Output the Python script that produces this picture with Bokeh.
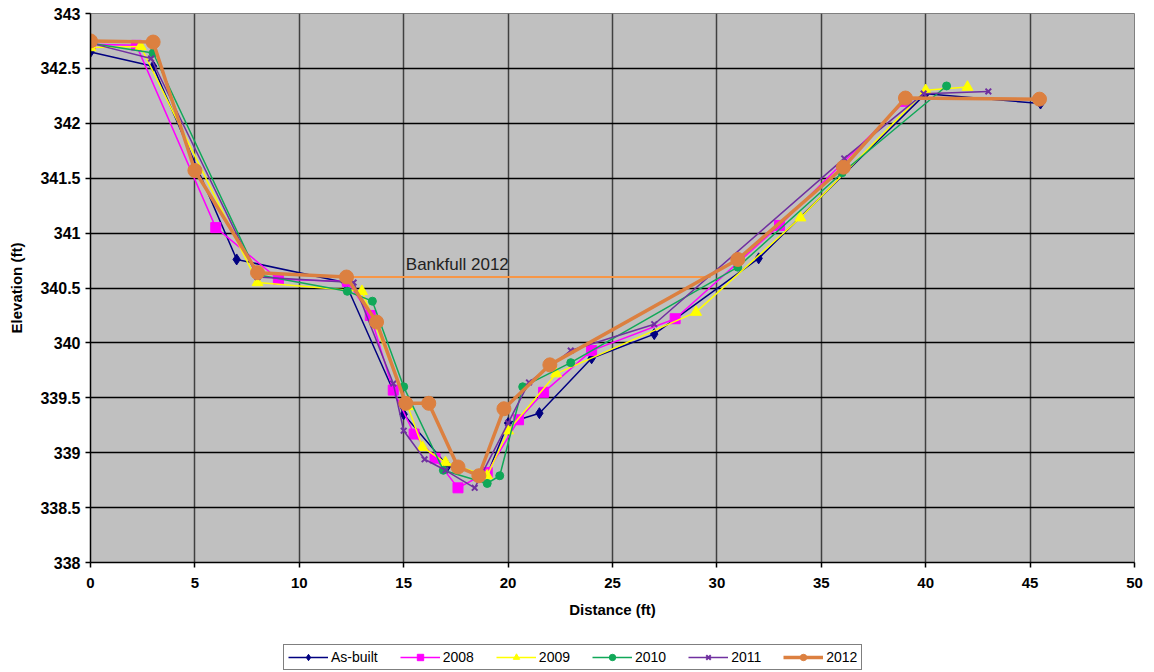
from bokeh.plotting import figure
from bokeh.layouts import column
from bokeh.models import Legend, LegendItem, FixedTicker, Range1d, Label
from bokeh.embed import file_html
from bokeh.resources import INLINE

# ---- data ----
asbuilt_x = [0, 3.0, 7.0, 12.2, 15.0, 17.1, 19.0, 20.0, 21.5, 24.0, 27.0, 32.0, 40.0, 45.5]
asbuilt_y = [342.65, 342.52, 340.76, 340.55, 339.35, 338.88, 338.8, 339.27, 339.36, 339.86, 340.08, 340.77, 342.27, 342.18]

y2008_x = [0, 2.2, 6.0, 9.0, 12.3, 13.4, 14.5, 15.5, 16.5, 17.6, 19.0, 20.5, 21.7, 24.0, 28.0, 33.0, 39.0]
y2008_y = [342.72, 342.71, 341.05, 340.58, 340.56, 340.25, 339.57, 339.17, 338.95, 338.68, 338.82, 339.3, 339.55, 339.93, 340.22, 341.07, 342.2]

y2009_x = [0, 2.4, 8.0, 13.0, 15.2, 15.9, 17.0, 19.0, 20.0, 22.3, 29.0, 34.0, 40.0, 42.0]
y2009_y = [342.69, 342.7, 340.55, 340.47, 339.42, 339.05, 338.91, 338.79, 339.2, 339.72, 340.28, 341.14, 342.3, 342.33]

y2010_x = [0, 3.0, 8.0, 12.3, 13.5, 15.0, 16.9, 19.0, 19.6, 20.7, 23.0, 31.0, 36.0, 41.0]
y2010_y = [342.73, 342.64, 340.62, 340.47, 340.38, 339.6, 338.84, 338.72, 338.79, 339.6, 339.82, 340.69, 341.55, 342.34]

y2011_x = [0, 2.9, 8.0, 12.6, 14.5, 15.0, 16.0, 17.0, 18.4, 20.0, 21.0, 23.0, 27.0, 36.1, 39.9, 43.0]
y2011_y = [342.73, 342.59, 340.6, 340.55, 339.63, 339.2, 338.94, 338.84, 338.68, 339.27, 339.64, 339.93, 340.17, 341.68, 342.27, 342.29]

y2012_x = [0, 3.0, 5.0, 8.0, 12.26, 13.7, 15.1, 16.2, 17.6, 18.6, 19.8, 22.0, 31.0, 36.06, 39.03, 45.45]
y2012_y = [342.75, 342.74, 341.57, 340.64, 340.6, 340.19, 339.45, 339.45, 338.87, 338.79, 339.4, 339.8, 340.76, 341.6, 342.23, 342.22]

bankfull_x = [12.26, 29.7]
bankfull_y = [340.6, 340.6]

x_ticks = [0, 5, 10, 15, 20, 25, 30, 35, 40, 45, 50]
y_ticks = [338, 338.5, 339, 339.5, 340, 340.5, 341, 341.5, 342, 342.5, 343]
y_tick_labels = ["338", "338.5", "339", "339.5", "340", "340.5", "341", "341.5", "342", "342.5", "343"]

FONT = "Liberation Sans"
NAN = float("nan")

p = figure(frame_width=1044, frame_height=549, output_backend="svg", toolbar_location=None,
           x_range=Range1d(0, 50), y_range=Range1d(338, 343),
           min_border_left=90, min_border_right=20, min_border_top=13, min_border_bottom=62)
p.background_fill_color = "#C0C0C0"
p.border_fill_color = "white"
p.outline_line_color = "#808080"

p.xgrid.ticker = FixedTicker(ticks=x_ticks)
p.ygrid.ticker = FixedTicker(ticks=y_ticks)
p.xgrid.grid_line_color = "#404040"
p.xgrid.grid_line_width = 1.5
p.ygrid.grid_line_color = "black"
p.ygrid.grid_line_width = 1.5

p.xaxis.ticker = FixedTicker(ticks=x_ticks)
p.yaxis.ticker = FixedTicker(ticks=y_ticks)
p.yaxis.major_label_overrides = {t: l for t, l in zip(y_ticks, y_tick_labels)}
for ax in (p.xaxis, p.yaxis):
    ax.axis_line_color = "black"
    ax.axis_line_width = 1.5
    ax.major_tick_line_color = "black"
    ax.major_tick_line_width = 1.5
    ax.major_tick_out = 5
    ax.major_tick_in = 0
    ax.minor_tick_line_color = None
    ax.major_label_text_font = FONT
    ax.major_label_text_font_style = "bold"
    ax.major_label_text_color = "black"
    ax.axis_label_text_font = FONT
    ax.axis_label_text_font_style = "bold"
    ax.axis_label_text_font_size = "15px"
    ax.axis_label_text_color = "black"
p.yaxis.major_label_text_font_size = "16px"
p.xaxis.major_label_text_font_size = "15px"
p.xaxis.axis_label = "Distance (ft)"
p.yaxis.axis_label = "Elevation (ft)"
p.xaxis.major_label_standoff = 10
p.yaxis.major_label_standoff = 5
p.xaxis.axis_label_standoff = 10
p.yaxis.axis_label_standoff = 12

# bankfull line
p.line(bankfull_x, bankfull_y, line_color="#F79646", line_width=2)
p.add_layout(Label(x=15.1, y=340.6, text="Bankfull 2012", text_font=FONT,
                   text_font_size="17px", text_color="#222222", y_offset=3))

series = [
    ("As-built", asbuilt_x, asbuilt_y, "#000080", "diamond", 11, 1.5),
    ("2008", y2008_x, y2008_y, "#FF00FF", "square", 10, 1.5),
    ("2009", y2009_x, y2009_y, "#FFFF00", "triangle", 11, 1.5),
    ("2010", y2010_x, y2010_y, "#10A858", "circle", 8, 1.5),
    ("2011", y2011_x, y2011_y, "#7030A0", "x", 8, 1.5),
    ("2012", y2012_x, y2012_y, "#DC8040", "circle", 14, 3.5),
]

# legend strip below the chart (proxy glyphs with no visible data)
leg = figure(width=1154, height=48, output_backend="svg", toolbar_location=None,
             x_range=Range1d(0, 1), y_range=Range1d(0, 1),
             min_border=0, min_border_left=0, min_border_right=0,
             min_border_top=0, min_border_bottom=0)
leg.axis.visible = False
leg.grid.visible = False
leg.outline_line_color = None
leg.background_fill_color = "white"

items = []
for name, xs, ys, col, mk, sz, lw in series:
    p.line(xs, ys, line_color=col, line_width=lw)
    l2 = leg.line([NAN], [NAN], line_color=col, line_width=lw)
    if mk == "x":
        p.scatter(xs, ys, marker=mk, size=sz, line_color=col, line_width=2)
        s2 = leg.scatter([NAN], [NAN], marker=mk, size=sz, line_color=col, line_width=2)
    else:
        p.scatter(xs, ys, marker=mk, size=sz, fill_color=col, line_color=col)
        s2 = leg.scatter([NAN], [NAN], marker=mk, size=sz, fill_color=col, line_color=col)
    items.append(LegendItem(label=name, renderers=[l2, s2]))

legend = Legend(items=items, orientation="horizontal", location=(193, 2),
                label_text_font=FONT, label_text_font_size="14px",
                label_text_color="black", glyph_width=40, glyph_height=16,
                label_standoff=3, spacing=22, padding=4,
                border_line_color="black", border_line_width=1.5,
                background_fill_color="white", margin=0)
leg.add_layout(legend, "center")

open("out.html", "w").write(file_html(column(p, leg, spacing=0), INLINE))
